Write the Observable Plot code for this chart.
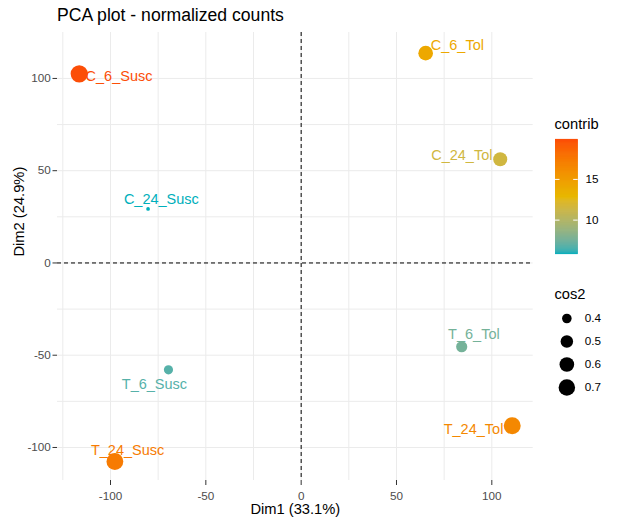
<!DOCTYPE html>
<html><head><meta charset="utf-8">
<script src="https://cdn.jsdelivr.net/npm/d3@7"></script>
<script src="https://cdn.jsdelivr.net/npm/@observablehq/plot@0.6"></script>
<style>
body{margin:0;background:#fff;}
#wrap{position:relative;width:617px;height:526px;font-family:"Liberation Sans",Arial,sans-serif;overflow:hidden;background:#fff}
#wrap svg{position:absolute;overflow:visible}
.t{position:absolute;line-height:1;white-space:nowrap;color:#000}
</style></head><body>
<div id="wrap"></div>
<script>
// ---- data ----
const names   = ["C_6_Susc","C_24_Susc","T_6_Susc","T_24_Susc","C_6_Tol","C_24_Tol","T_6_Tol","T_24_Tol"];
const dim1    = [-116.4, -80.3, -69.6, -97.7, 65.3, 104.4, 84.2, 110.7];
const dim2    = [102.5, 29.3, -57.9, -107.6, 113.7, 56.2, -45.4, -88.2];
const contrib = [19.9, 5.9, 6.8, 17.4, 14.2, 11.6, 7.6, 16.5];
const cos2    = [0.745, 0.32, 0.39, 0.72, 0.60, 0.57, 0.45, 0.73];
const xTicks = [-100, -50, 0, 50, 100];
const yTicks = [-100, -50, 0, 50, 100];
const xMinor = [-125, -75, -25, 25, 75];
const yMinor = [-75, -25, 25, 75];
const contribTicks = [10, 15];
const cos2Ticks = [0.4, 0.5, 0.6, 0.7];
const palette = ["#00AFBB", "#E7B800", "#FC4E07"];

// label nudges (repel-like placement), px
const nudge = {
  C_6_Susc: [39.8, 2.5], C_24_Susc: [13.3, -9.8], T_6_Susc: [-14, 14.6], T_24_Susc: [12.7, -11],
  C_6_Tol: [31.7, -7.8], C_24_Tol: [-38.4, -3.5], T_6_Tol: [12.2, -11.9], T_24_Tol: [-38.7, 3.8]
};

const data = names.map((n, i) => ({name: n, dim1: dim1[i], dim2: dim2[i], contrib: contrib[i], cos2: cos2[i]}));

const font = "Liberation Sans, Arial, sans-serif";
const cMin = d3.min(contrib), cMax = d3.max(contrib);
const colorOpts = {type: "linear", domain: [cMin, (cMin + cMax) / 2, cMax], range: palette, interpolate: "lab"};
const sMin = d3.min(cos2), sMax = d3.max(cos2);
const rOpts = {type: "sqrt", transform: c => c - sMin, domain: [0, sMax - sMin], range: [1.85, 8.6]};

const grid = {stroke: "#EBEBEB", strokeOpacity: 1, strokeWidth: 1};
const tickFmt = d => String(d);

const main = Plot.plot({
  width: 617, height: 526,
  marginLeft: 57, marginRight: 84.3, marginTop: 32, marginBottom: 46,
  style: {fontFamily: font, background: "transparent", overflow: "visible"},
  x: {domain: [-127.8, 121.7], axis: null},
  y: {domain: [-117.9, 124.9], axis: null},
  color: colorOpts,
  r: rOpts,
  marks: [
    Plot.ruleX(xMinor, grid),
    Plot.ruleY(yMinor, grid),
    Plot.ruleX(xTicks, grid),
    Plot.ruleY(yTicks, grid),
    Plot.ruleX([0], {stroke: "black", strokeWidth: 1, strokeDasharray: "4,3"}),
    Plot.ruleY([0], {stroke: "black", strokeWidth: 1, strokeDasharray: "4,3"}),
    Plot.axisX({ticks: xTicks, tickSize: 5, tickPadding: 5.7, fontSize: 11.7, stroke: "#333333", fill: "#4D4D4D", label: null, tickFormat: tickFmt}),
    Plot.axisY({ticks: yTicks, tickSize: 4.5, tickPadding: 2.2, fontSize: 11.7, stroke: "#333333", fill: "#4D4D4D", label: null, tickFormat: tickFmt}),
    Plot.text(["Dim1 (33.1%)"], {text: d => d, frameAnchor: "bottom", dy: 33.3, lineAnchor: "bottom", fontSize: 14.7, fill: "black"}),
    Plot.text(["Dim2 (24.9%)"], {text: d => d, frameAnchor: "left", rotate: -90, dx: -34, lineAnchor: "bottom", fontSize: 14.7, fill: "black"}),
    ...data.map(d => Plot.text([d], {
      x: "dim1", y: "dim2", text: "name", fill: "contrib",
      dx: nudge[d.name][0], dy: nudge[d.name][1],
      textAnchor: "middle", lineAnchor: "middle", fontSize: 14.5
    })),
    Plot.dot(data, {x: "dim1", y: "dim2", r: "cos2", fill: "contrib"})
  ]
});

// colour bar legend
const steps = 240;
const bar = d3.range(steps + 1).map(i => cMin + (cMax - cMin) * i / steps);
const colorbar = Plot.plot({
  width: 62, height: 114,
  marginLeft: 0, marginRight: 39.3, marginTop: 0, marginBottom: 0,
  style: {fontFamily: font, background: "transparent", overflow: "visible"},
  y: {domain: [cMin, cMax], axis: null},
  color: colorOpts,
  marks: [
    Plot.ruleY(bar, {y: d => d, stroke: d => d, strokeWidth: 1.2}),
    Plot.ruleY(contribTicks, {stroke: "white", strokeWidth: 1, insetRight: 18.2}),
    Plot.ruleY(contribTicks, {stroke: "white", strokeWidth: 1, insetLeft: 18.2}),
    Plot.axisY({ticks: contribTicks, anchor: "right", tickSize: 0, tickPadding: 7.3, fontSize: 11.7, fill: "black", label: null, tickFormat: tickFmt})
  ]
});

// size legend
const sizeLegend = Plot.plot({
  width: 60, height: 100,
  marginLeft: 0, marginRight: 37.3, marginTop: 18, marginBottom: 13,
  style: {fontFamily: font, background: "transparent", overflow: "visible"},
  y: {type: "point", domain: cos2Ticks, padding: 0, axis: null},
  r: rOpts,
  marks: [
    Plot.dot(cos2Ticks, {y: d => d, r: d => d, fill: "black"}),
    Plot.axisY({anchor: "right", tickSize: 0, tickPadding: 6.6, fontSize: 11.7, fill: "black", label: null, tickFormat: tickFmt})
  ]
});

const wrap = document.getElementById("wrap");
main.style.left = "0px"; main.style.top = "0px";
colorbar.style.left = "555px"; colorbar.style.top = "139.3px";
sizeLegend.style.left = "555px"; sizeLegend.style.top = "300px";
wrap.appendChild(main);
wrap.appendChild(colorbar);
wrap.appendChild(sizeLegend);

function addText(txt, left, top, size) {
  const el = document.createElement("div");
  el.className = "t";
  el.textContent = txt;
  el.style.left = left + "px"; el.style.top = top + "px"; el.style.fontSize = size + "px";
  wrap.appendChild(el);
}
addText("PCA plot - normalized counts", 57, 6.6, 17.6);
addText("contrib", 554.5, 117, 14.7);
addText("cos2", 554.5, 286.5, 14.7);
</script>
</body></html>
